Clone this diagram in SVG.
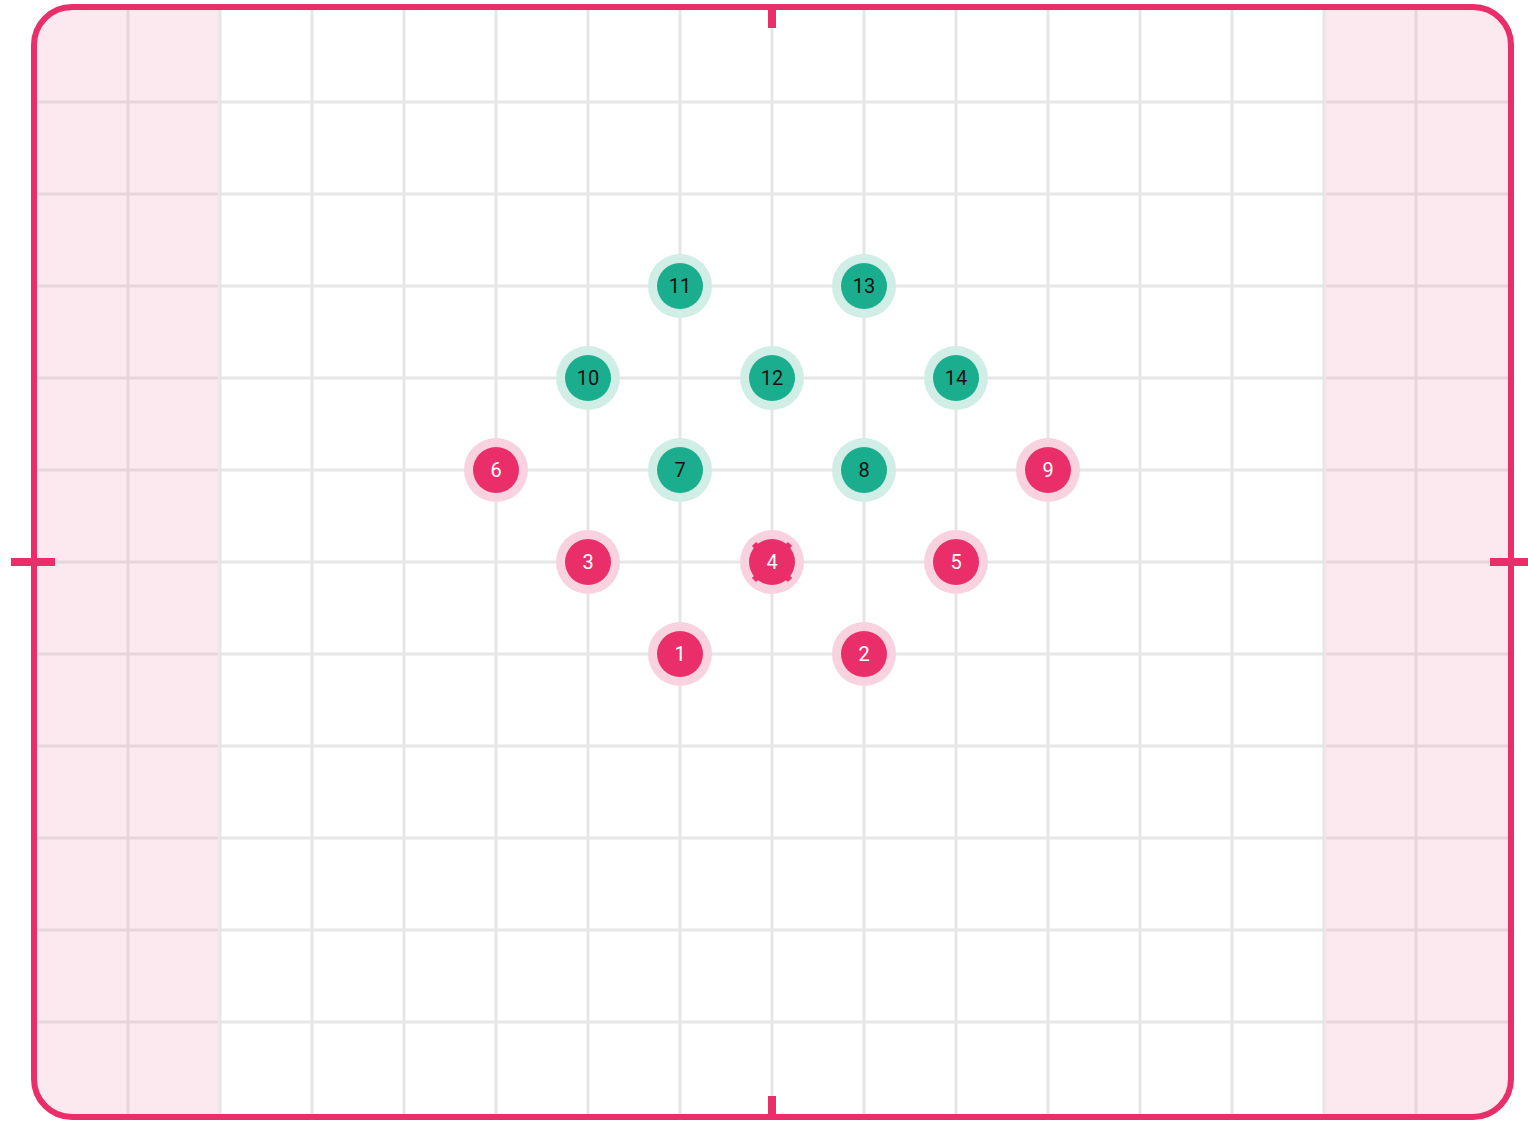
<svg xmlns="http://www.w3.org/2000/svg" width="1528" height="1123" viewBox="0 0 1528 1123">
<style>
.grid line{stroke:#e6e6e6;stroke-width:3}
.gridp line{stroke:#e6d6dc;stroke-width:3}
.halo-p{fill:#f8d3df}
.halo-g{fill:#d0ede6}
.core-p{fill:#e92e6a}
.core-g{fill:#1aae8e}
text{font-family:Roboto,"Liberation Sans",sans-serif;font-size:20px;text-anchor:middle;dominant-baseline:central}
.tp{fill:#ffffff}
.tg{fill:#111111}
.tick{stroke:#e92e6a;stroke-width:8}
</style>
<defs>
<clipPath id="frame"><rect x="34" y="7" width="1477" height="1110" rx="38"/></clipPath>
</defs>
<rect x="0" y="0" width="1528" height="1123" fill="#ffffff"/>
<g clip-path="url(#frame)">
<rect x="34" y="7" width="186" height="1110" fill="#fce9ef"/>
<rect x="1324" y="7" width="190" height="1110" fill="#fce9ef"/>
<g class="grid">
<line x1="220" y1="0" x2="220" y2="1123"/><line x1="312" y1="0" x2="312" y2="1123"/><line x1="404" y1="0" x2="404" y2="1123"/><line x1="496" y1="0" x2="496" y2="1123"/><line x1="588" y1="0" x2="588" y2="1123"/><line x1="680" y1="0" x2="680" y2="1123"/><line x1="772" y1="0" x2="772" y2="1123"/><line x1="864" y1="0" x2="864" y2="1123"/><line x1="956" y1="0" x2="956" y2="1123"/><line x1="1048" y1="0" x2="1048" y2="1123"/><line x1="1140" y1="0" x2="1140" y2="1123"/><line x1="1232" y1="0" x2="1232" y2="1123"/><line x1="1324" y1="0" x2="1324" y2="1123"/>
<line x1="220" y1="102" x2="1324" y2="102"/><line x1="220" y1="194" x2="1324" y2="194"/><line x1="220" y1="286" x2="1324" y2="286"/><line x1="220" y1="378" x2="1324" y2="378"/><line x1="220" y1="470" x2="1324" y2="470"/><line x1="220" y1="562" x2="1324" y2="562"/><line x1="220" y1="654" x2="1324" y2="654"/><line x1="220" y1="746" x2="1324" y2="746"/><line x1="220" y1="838" x2="1324" y2="838"/><line x1="220" y1="930" x2="1324" y2="930"/><line x1="220" y1="1022" x2="1324" y2="1022"/>
</g>
<g class="gridp">
<line x1="128" y1="0" x2="128" y2="1123"/><line x1="1416" y1="0" x2="1416" y2="1123"/>
<line x1="0" y1="102" x2="218" y2="102"/><line x1="0" y1="194" x2="218" y2="194"/><line x1="0" y1="286" x2="218" y2="286"/><line x1="0" y1="378" x2="218" y2="378"/><line x1="0" y1="470" x2="218" y2="470"/><line x1="0" y1="562" x2="218" y2="562"/><line x1="0" y1="654" x2="218" y2="654"/><line x1="0" y1="746" x2="218" y2="746"/><line x1="0" y1="838" x2="218" y2="838"/><line x1="0" y1="930" x2="218" y2="930"/><line x1="0" y1="1022" x2="218" y2="1022"/>
<line x1="1326" y1="102" x2="1528" y2="102"/><line x1="1326" y1="194" x2="1528" y2="194"/><line x1="1326" y1="286" x2="1528" y2="286"/><line x1="1326" y1="378" x2="1528" y2="378"/><line x1="1326" y1="470" x2="1528" y2="470"/><line x1="1326" y1="562" x2="1528" y2="562"/><line x1="1326" y1="654" x2="1528" y2="654"/><line x1="1326" y1="746" x2="1528" y2="746"/><line x1="1326" y1="838" x2="1528" y2="838"/><line x1="1326" y1="930" x2="1528" y2="930"/><line x1="1326" y1="1022" x2="1528" y2="1022"/>
</g>
</g>
<rect x="34" y="7" width="1477" height="1110" rx="38" fill="none" stroke="#e92e6a" stroke-width="6"/>
<g id="ticks">
<line class="tick" x1="772" y1="7" x2="772" y2="28"/>
<line class="tick" x1="772" y1="1096" x2="772" y2="1117"/>
<line class="tick" x1="11" y1="562" x2="55" y2="562"/>
<line class="tick" x1="1490" y1="562" x2="1528" y2="562"/>
</g>
<g id="connectors"></g>
<g id="node-1"><circle class="halo-p" cx="680" cy="654" r="32"/><circle class="core-p" cx="680" cy="654" r="23"/><text class="tp" x="680" y="654">1</text></g>
<g id="node-2"><circle class="halo-p" cx="864" cy="654" r="32"/><circle class="core-p" cx="864" cy="654" r="23"/><text class="tp" x="864" y="654">2</text></g>
<g id="node-3"><circle class="halo-p" cx="588" cy="562" r="32"/><circle class="core-p" cx="588" cy="562" r="23"/><text class="tp" x="588" y="562">3</text></g>
<g id="node-4"><circle class="halo-p" cx="772" cy="562" r="32"/><circle class="core-p" cx="772" cy="562" r="23"/>
<g stroke="#e92e6a" stroke-width="6" stroke-linecap="butt"><line x1="785" y1="549" x2="790" y2="544"/><line x1="759" y1="549" x2="754" y2="544"/><line x1="785" y1="575" x2="790" y2="580"/><line x1="759" y1="575" x2="754" y2="580"/></g>
<text class="tp" x="772" y="562">4</text></g>
<g id="node-5"><circle class="halo-p" cx="956" cy="562" r="32"/><circle class="core-p" cx="956" cy="562" r="23"/><text class="tp" x="956" y="562">5</text></g>
<g id="node-6"><circle class="halo-p" cx="496" cy="470" r="32"/><circle class="core-p" cx="496" cy="470" r="23"/><text class="tp" x="496" y="470">6</text></g>
<g id="node-7"><circle class="halo-g" cx="680" cy="470" r="32"/><circle class="core-g" cx="680" cy="470" r="23"/><text class="tg" x="680" y="470">7</text></g>
<g id="node-8"><circle class="halo-g" cx="864" cy="470" r="32"/><circle class="core-g" cx="864" cy="470" r="23"/><text class="tg" x="864" y="470">8</text></g>
<g id="node-9"><circle class="halo-p" cx="1048" cy="470" r="32"/><circle class="core-p" cx="1048" cy="470" r="23"/><text class="tp" x="1048" y="470">9</text></g>
<g id="node-10"><circle class="halo-g" cx="588" cy="378" r="32"/><circle class="core-g" cx="588" cy="378" r="23"/><text class="tg" x="588" y="378">10</text></g>
<g id="node-11"><circle class="halo-g" cx="680" cy="286" r="32"/><circle class="core-g" cx="680" cy="286" r="23"/><text class="tg" x="680" y="286">11</text></g>
<g id="node-12"><circle class="halo-g" cx="772" cy="378" r="32"/><circle class="core-g" cx="772" cy="378" r="23"/><text class="tg" x="772" y="378">12</text></g>
<g id="node-13"><circle class="halo-g" cx="864" cy="286" r="32"/><circle class="core-g" cx="864" cy="286" r="23"/><text class="tg" x="864" y="286">13</text></g>
<g id="node-14"><circle class="halo-g" cx="956" cy="378" r="32"/><circle class="core-g" cx="956" cy="378" r="23"/><text class="tg" x="956" y="378">14</text></g>
</svg>
